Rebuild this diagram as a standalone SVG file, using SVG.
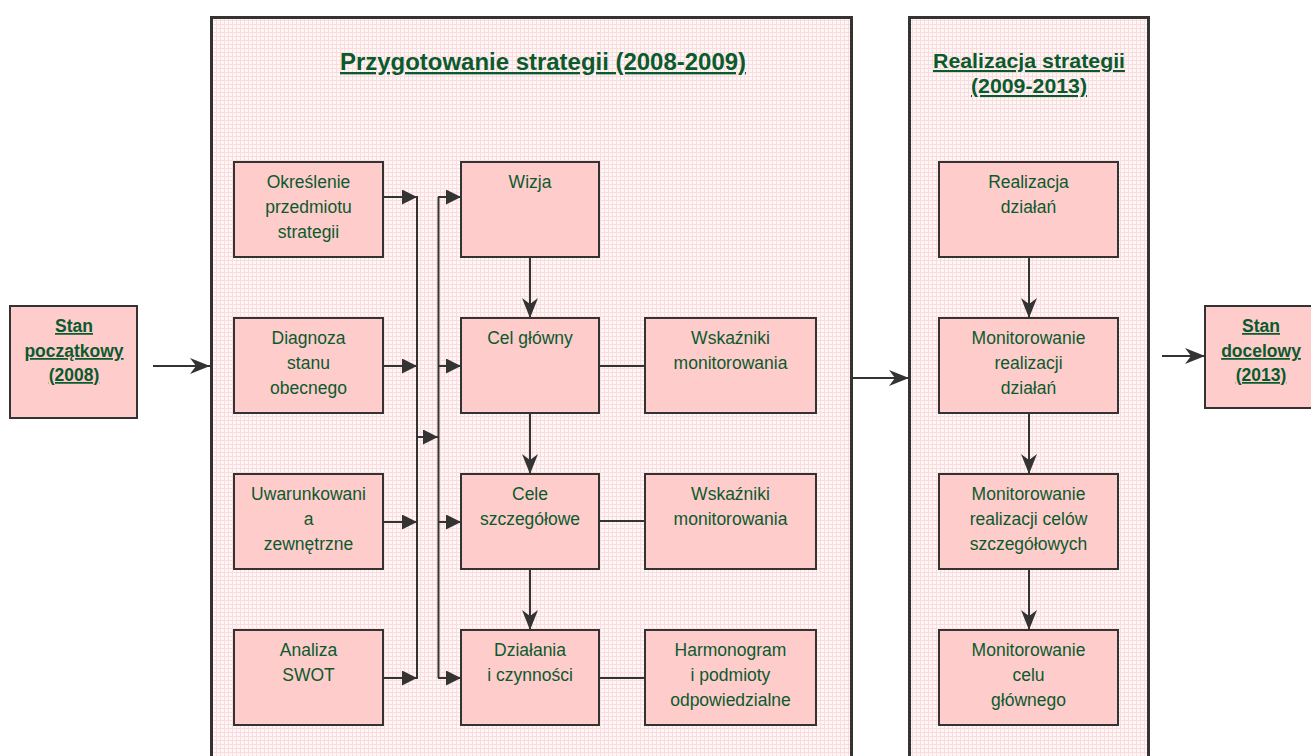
<svg xmlns="http://www.w3.org/2000/svg" width="1311" height="756" viewBox="0 0 1311 756">
<defs>
<pattern id="grid" width="4" height="4" patternUnits="userSpaceOnUse">
<rect width="4" height="4" fill="#fff7f7"/>
<path d="M0 0.5H4M0.5 0V4" stroke="#fadcdc" stroke-width="1"/>
</pattern>
<marker id="tri" markerWidth="15" markerHeight="15" refX="15" refY="7.5" orient="auto" markerUnits="userSpaceOnUse">
<path d="M0 0L15 7.5L0 15Z" fill="#333"/>
</marker>
<marker id="stealth" markerWidth="20" markerHeight="16" refX="20" refY="8" orient="auto" markerUnits="userSpaceOnUse">
<path d="M0 0L20 8L0 16L6 8Z" fill="#333"/>
</marker>
</defs>
<style>
.panel{fill:url(#grid);stroke:#333;stroke-width:3}
.box{fill:#ffcccc;stroke:#333;stroke-width:2}
.t{font-family:"Liberation Sans",Arial,sans-serif;font-size:17.5px;fill:#0b5a2d;text-anchor:middle}
.b{font-weight:bold;text-decoration:underline}
.title{font-family:"Liberation Sans",Arial,sans-serif;font-weight:bold;fill:#0b5a2d;text-anchor:middle;text-decoration:underline}
.ln{stroke:#333;stroke-width:2;fill:none}
</style>
<rect width="1311" height="756" fill="#fff"/>
<g id="panel-prep">
<rect class="panel" x="211.5" y="17.5" width="640" height="760"/>
<text class="title" x="543" y="70" font-size="23.5" textLength="406" lengthAdjust="spacingAndGlyphs">Przygotowanie strategii (2008-2009)</text>
</g>
<g id="panel-real">
<rect class="panel" x="909.5" y="17.5" width="239" height="760"/>
<text class="title" x="1029" y="68" font-size="21" textLength="192" lengthAdjust="spacingAndGlyphs">Realizacja strategii</text>
<text class="title" x="1029" y="93" font-size="21" textLength="116" lengthAdjust="spacingAndGlyphs">(2009-2013)</text>
</g>
<g id="connectors">
<line class="ln" x1="153" y1="366" x2="210" y2="366" marker-end="url(#stealth)"/>
<line class="ln" x1="383" y1="197" x2="417" y2="197" marker-end="url(#tri)"/>
<line class="ln" x1="383" y1="366" x2="417" y2="366" marker-end="url(#tri)"/>
<line class="ln" x1="383" y1="522" x2="417" y2="522" marker-end="url(#tri)"/>
<line class="ln" x1="383" y1="678" x2="417" y2="678" marker-end="url(#tri)"/>
<line class="ln" x1="417" y1="196" x2="417" y2="679"/>
<line class="ln" x1="417" y1="437" x2="438" y2="437" marker-end="url(#tri)"/>
<line class="ln" x1="438.5" y1="197" x2="438.5" y2="678"/>
<line class="ln" x1="438" y1="197" x2="461" y2="197" marker-end="url(#tri)"/>
<line class="ln" x1="438" y1="366" x2="461" y2="366" marker-end="url(#tri)"/>
<line class="ln" x1="438" y1="522" x2="461" y2="522" marker-end="url(#tri)"/>
<line class="ln" x1="438" y1="678" x2="461" y2="678" marker-end="url(#tri)"/>
<line class="ln" x1="530" y1="257" x2="530" y2="318" marker-end="url(#stealth)"/>
<line class="ln" x1="530" y1="413" x2="530" y2="474" marker-end="url(#stealth)"/>
<line class="ln" x1="530" y1="569" x2="530" y2="630" marker-end="url(#stealth)"/>
<line class="ln" x1="599" y1="366" x2="645" y2="366"/>
<line class="ln" x1="599" y1="521" x2="645" y2="521"/>
<line class="ln" x1="599" y1="678" x2="645" y2="678"/>
<line class="ln" x1="851" y1="378" x2="909" y2="378" marker-end="url(#stealth)"/>
<line class="ln" x1="1029" y1="257" x2="1029" y2="318" marker-end="url(#stealth)"/>
<line class="ln" x1="1029" y1="413" x2="1029" y2="474" marker-end="url(#stealth)"/>
<line class="ln" x1="1029" y1="569" x2="1029" y2="630" marker-end="url(#stealth)"/>
<line class="ln" x1="1162" y1="356" x2="1205" y2="356" marker-end="url(#stealth)"/>
</g>
<g id="stan-poczatkowy">
<rect class="box" x="10" y="306" width="127" height="112"/>
<text class="t b" font-weight="bold" x="74" y="332">Stan</text>
<text class="t b" font-weight="bold" x="74" y="357">początkowy</text>
<text class="t b" font-weight="bold" x="74" y="381"> (2008)</text>
</g>
<g id="okreslenie">
<rect class="box" x="234" y="162" width="149" height="95"/>
<text class="t" x="308.5" y="188">Określenie</text>
<text class="t" x="308.5" y="213">przedmiotu</text>
<text class="t" x="308.5" y="238">strategii</text>
</g>
<g id="diagnoza">
<rect class="box" x="234" y="318" width="149" height="95"/>
<text class="t" x="308.5" y="344">Diagnoza</text>
<text class="t" x="308.5" y="369">stanu</text>
<text class="t" x="308.5" y="394">obecnego</text>
</g>
<g id="uwarunkowania">
<rect class="box" x="234" y="474" width="149" height="95"/>
<text class="t" x="308.5" y="500">Uwarunkowani</text>
<text class="t" x="308.5" y="525">a</text>
<text class="t" x="308.5" y="550">zewnętrzne</text>
</g>
<g id="swot">
<rect class="box" x="234" y="630" width="149" height="95"/>
<text class="t" x="308.5" y="656">Analiza</text>
<text class="t" x="308.5" y="681">SWOT</text>
</g>
<g id="wizja">
<rect class="box" x="461" y="162" width="138" height="95"/>
<text class="t" x="530" y="188">Wizja</text>
</g>
<g id="cel-glowny">
<rect class="box" x="461" y="318" width="138" height="95"/>
<text class="t" x="530" y="344">Cel główny</text>
</g>
<g id="cele-szczegolowe">
<rect class="box" x="461" y="474" width="138" height="95"/>
<text class="t" x="530" y="500">Cele</text>
<text class="t" x="530" y="525">szczegółowe</text>
</g>
<g id="dzialania">
<rect class="box" x="461" y="630" width="138" height="95"/>
<text class="t" x="530" y="656">Działania</text>
<text class="t" x="530" y="681">i czynności</text>
</g>
<g id="wskazniki-1">
<rect class="box" x="645" y="318" width="171" height="95"/>
<text class="t" x="730.5" y="344">Wskaźniki</text>
<text class="t" x="730.5" y="369">monitorowania</text>
</g>
<g id="wskazniki-2">
<rect class="box" x="645" y="474" width="171" height="95"/>
<text class="t" x="730.5" y="500">Wskaźniki</text>
<text class="t" x="730.5" y="525">monitorowania</text>
</g>
<g id="harmonogram">
<rect class="box" x="645" y="630" width="171" height="95"/>
<text class="t" x="730.5" y="656">Harmonogram</text>
<text class="t" x="730.5" y="681">i podmioty</text>
<text class="t" x="730.5" y="706">odpowiedzialne</text>
</g>
<g id="realizacja-dzialan">
<rect class="box" x="939" y="162" width="179" height="95"/>
<text class="t" x="1028.5" y="188">Realizacja</text>
<text class="t" x="1028.5" y="213">działań</text>
</g>
<g id="monitorowanie-dzialan">
<rect class="box" x="939" y="318" width="179" height="95"/>
<text class="t" x="1028.5" y="344">Monitorowanie</text>
<text class="t" x="1028.5" y="369">realizacji</text>
<text class="t" x="1028.5" y="394">działań</text>
</g>
<g id="monitorowanie-celow">
<rect class="box" x="939" y="474" width="179" height="95"/>
<text class="t" x="1028.5" y="500">Monitorowanie</text>
<text class="t" x="1028.5" y="525">realizacji celów</text>
<text class="t" x="1028.5" y="550">szczegółowych</text>
</g>
<g id="monitorowanie-celu">
<rect class="box" x="939" y="630" width="179" height="95"/>
<text class="t" x="1028.5" y="656">Monitorowanie</text>
<text class="t" x="1028.5" y="681">celu</text>
<text class="t" x="1028.5" y="706">głównego</text>
</g>
<g id="stan-docelowy">
<rect class="box" x="1205" y="306" width="120" height="102"/>
<text class="t b" font-weight="bold" x="1261" y="332">Stan</text>
<text class="t b" font-weight="bold" x="1261" y="357">docelowy</text>
<text class="t b" font-weight="bold" x="1261" y="381">(2013)</text>
</g>
</svg>
